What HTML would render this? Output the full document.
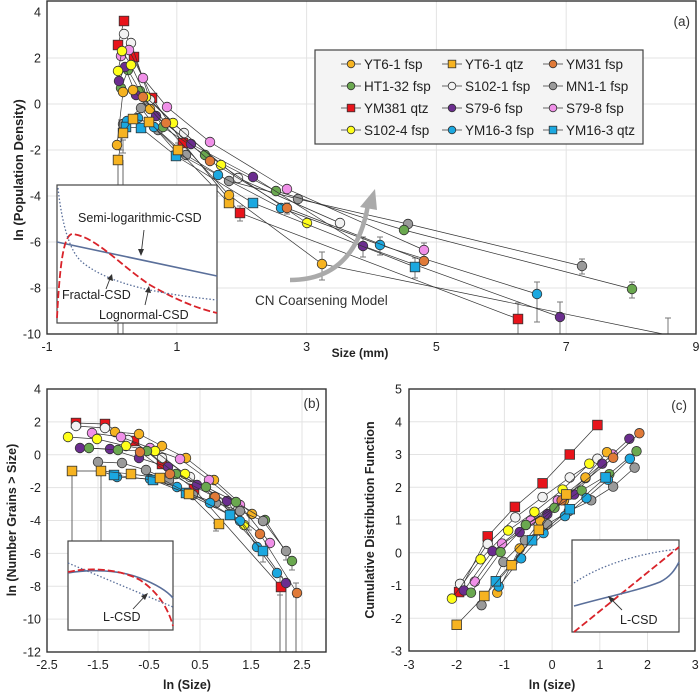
<!DOCTYPE html>
<html><head><meta charset="utf-8"><style>
body{margin:0;background:#fff;}
svg{display:block;font-family:"Liberation Sans",Arial,sans-serif;}
</style></head><body>
<svg id="s" width="700" height="695" viewBox="0 0 700 695" xmlns="http://www.w3.org/2000/svg"></svg>
<script>
const S=document.getElementById('s');let H='';
const C={yf:'#f6b321',yq:'#f6b321',ym31:'#e07a38',ht:'#6aa84f',s1:'#f2f2f2',mn:'#9a9a9a',r:'#e8141b',p79:'#6b2d8f',pk:'#f090e8',s4:'#ffff1a',bf:'#1ba8e0',bq:'#1ba8e0'};
const SQ={yq:1,r:1,bq:1};
function mk(k,x,y,r){r=r||4.8;if(SQ[k])return `<rect x="${x-r}" y="${y-r}" width="${2*r}" height="${2*r}" fill="${C[k]}" stroke="#333" stroke-width="0.8"/>`;return `<circle cx="${x}" cy="${y}" r="${r}" fill="${C[k]}" stroke="#333" stroke-width="0.8"/>`;}
function series(k,pts){let d=pts.map((p,i)=>(i?'L':'M')+p[0].toFixed(1)+','+p[1].toFixed(1)).join('');H+=`<path d="${d}" fill="none" stroke="#333" stroke-width="0.7"/>`;pts.forEach(p=>H+=mk(k,p[0],p[1]));}
function err(x,y1,y2){H+=`<path d="M${x},${y1}V${y2}M${x-3},${y1}h6M${x-3},${y2}h6" stroke="#777" stroke-width="1" fill="none"/>`;}
function txt(x,y,t,o){o=o||{};H+=`<text x="${x}" y="${y}" font-size="${o.fs||12.5}" ${o.a?'text-anchor="'+o.a+'"':''} ${o.b?'font-weight="bold"':''} ${o.rot?'transform="rotate(-90 '+x+' '+y+')"':''} fill="${o.c||'#222'}">${t}</text>`;}
const ax=x=>47+(x+1)*64.9, ay=y=>12+(4-y)*23;
for(let x=1;x<=7;x+=2)H+=`<line x1="${ax(x)}" y1="1" x2="${ax(x)}" y2="334" stroke="#e3e3e3"/>`;
for(let y=-8;y<=2;y+=2)H+=`<line x1="47" y1="${ay(y)}" x2="696" y2="${ay(y)}" stroke="#e3e3e3"/>`;
for(let x=-1;x<=9;x+=2)txt(ax(x),351,x,{a:'middle'});
for(let y=-10;y<=4;y+=2)txt(41,ay(y)+4.5,y,{a:'end'});
txt(23,170,'ln (Population Density)',{b:1,rot:1,a:'middle',fs:13});
txt(360,357,'Size (mm)',{b:1,a:'middle',fs:12});
H+=`<path d="M118,165V334M123,160V334" stroke="#666" stroke-width="1"/>`;
err(322,252,280);err(668,318,334);err(518,303,334);err(537,282,322);err(560,302,334);err(582,259,274);err(632,282,298);err(424,243,258);err(415,258,278);err(380,237,255);err(363,237,257);err(287,203,214);err(240,206,221);err(178,143,159);err(123,140,153);err(121,120,150);
const A={
r:[[124,21],[118,45],[134,57],[152,98],[183,143],[240,213],[518,319]],
s1:[[124,34],[131,43],[150,100],[184,133],[238,178],[340,223]],
mn:[[123,124],[141,108],[158,130],[186,155],[229,181],[298,199],[408,224],[582,266]],
ht:[[121,88],[128,70],[140,91],[163,127],[205,155],[276,191],[404,230],[632,289]],
pk:[[121,56],[129,50],[143,78],[167,107],[210,142],[287,189],[424,250]],
p79:[[119,81],[125,67],[136,95],[156,116],[191,144],[253,177],[363,246],[560,317]],
s4:[[118,71],[122,51],[131,65],[146,97],[173,123],[221,165],[307,223]],
bf:[[127,121],[138,118],[154,127],[177,153],[218,175],[281,208],[380,245],[537,294]],
bq:[[126,127],[141,128],[176,156],[253,203],[415,267]],
yq:[[118,160],[123,133],[133,119],[149,122],[178,150],[229,203]],
yf:[[117,145],[123,92],[133,90],[150,109],[229,195],[322,264],[663,334]],
ym31:[[143,97],[166,123],[210,161],[287,208],[424,261]]};
for(const k in A){let p=A[k];if(k==='yf'){H+=`<path d="${p.map((q,i)=>(i?'L':'M')+q).join('')}" fill="none" stroke="#333" stroke-width="0.7"/>`;p.slice(0,6).forEach(q=>H+=mk(k,q[0],q[1]));}else series(k,p);}
H+=`<path d="M290,280 Q355,280 368,205" fill="none" stroke="#aaa" stroke-width="4.5"/><path d="M375,189 L360,207 L377,210 Z" fill="#aaa"/>`;
txt(255,305,'CN Coarsening Model',{fs:13.5,c:'#333'});
txt(690,26,'(a)',{a:'end',fs:13.5,c:'#333'});
H+=`<rect x="57" y="185" width="160" height="138" fill="#fff" stroke="#444" stroke-width="1.2"/>`;
H+=`<path d="M57,242 L217,276" stroke="#5a6f9a" stroke-width="1.6" fill="none"/>`;
H+=`<path d="M57,318 C60,260 64,236 72,234 C95,236 120,265 150,285 C180,302 200,309 217,313" stroke="#d9232a" stroke-width="1.8" stroke-dasharray="7,3" fill="none"/>`;
H+=`<path d="M58,188 C62,225 70,252 82,262 C110,285 160,294 217,300" stroke="#5a6f9a" stroke-width="1.3" stroke-dasharray="1.5,2" fill="none"/>`;
txt(78,222,'Semi-logarithmic-CSD',{fs:12.5,c:'#222'});txt(62,299,'Fractal-CSD',{fs:12.5});txt(99,319,'Lognormal-CSD',{fs:12.5});
H+=`<path d="M144,230 L141,255M106,289 L111,276M145,305 L149,288" stroke="#333" stroke-width="0.9"/><path d="M141,256 l-3,-7 l6,0z M112,274 l-5,5 l6,2z M149,286 l-4,6 l6,1z" fill="#333"/>`;
H+=`<rect x="315" y="50" width="328" height="94" fill="#f4f4f4" stroke="#444" stroke-width="1.2"/>`;
const L=[['yf','YT6-1 fsp'],['yq','YT6-1 qtz'],['ym31','YM31 fsp'],['ht','HT1-32 fsp'],['s1','S102-1 fsp'],['mn','MN1-1 fsp'],['r','YM381 qtz'],['p79','S79-6 fsp'],['pk','S79-8 fsp'],['s4','S102-4 fsp'],['bf','YM16-3 fsp'],['bq','YM16-3 qtz']];
L.forEach((e,i)=>{let cx=[351,452,553][i%3],cy=64+Math.floor(i/3)*22;H+=`<line x1="${cx-10}" y1="${cy}" x2="${cx+10}" y2="${cy}" stroke="#333" stroke-width="0.8"/>`+mk(e[0],cx,cy,3.8);txt(cx+13,cy+5,e[1],{fs:13.5,c:'#222'});});
H+=`<rect x="47" y="1" width="649" height="333" fill="none" stroke="#333" stroke-width="1.4"/>`;
const bx=x=>47+(x+2.5)*51, by=y=>389+(4-y)*16.44;
for(let x=-1.5;x<=2.5;x+=1)H+=`<line x1="${bx(x)}" y1="389" x2="${bx(x)}" y2="652" stroke="#e3e3e3"/>`;
for(let y=-10;y<=2;y+=2)H+=`<line x1="47" y1="${by(y)}" x2="326" y2="${by(y)}" stroke="#e3e3e3"/>`;
for(let x=-2.5;x<=2.6;x+=1)txt(bx(x),669,x.toFixed(1).replace('.0',''),{a:'middle'});
for(let y=-12;y<=4;y+=2)txt(41,by(y)+4.5,y,{a:'end'});
txt(16,520,'ln (Number Grains &gt; Size)',{b:1,rot:1,a:'middle',fs:12.5});
txt(187,689,'ln (Size)',{b:1,a:'middle',fs:12.5});
H+=`<path d="M72,471V541M101,471V541M280,590V652M286,583V652M296,595V652" stroke="#666" stroke-width="1"/>`;
err(249,515,530);err(263,548,562);err(286,548,560);err(292,558,570);err(280,577,595);err(216,523,531);err(296,583,597);
const B={
r:[[76,423],[105,424],[134,441],[162,464],[194,489],[281,587]],
s1:[[76,426],[105,428],[128,440],[162,458],[190,477],[230,505]],
yf:[[115,432],[139,434],[162,446],[186,458],[214,480],[252,514]],
pk:[[92,433],[121,437],[150,448],[180,459],[209,480],[240,505],[270,543]],
s4:[[68,437],[97,439],[126,446],[155,451],[185,474],[214,497],[244,525]],
p79:[[80,448],[110,449],[139,458],[168,467],[197,485],[227,501],[286,583]],
ht:[[89,448],[118,450],[147,451],[176,474],[206,487],[236,502],[265,520],[292,561]],
mn:[[98,462],[122,463],[146,470],[169,480],[193,495],[216,503],[240,511],[263,521],[286,551]],
ym31:[[140,452],[170,474],[215,497],[260,534],[297,593]],
bf:[[101,471],[117,477],[150,479],[177,487],[210,503],[240,521],[257,547],[277,573]],
bq:[[114,475],[153,480],[186,493],[230,515],[263,551]],
yq:[[72,471],[101,471],[131,474],[160,478],[189,494],[219,524]]};
for(const k in B)series(k,B[k]);
txt(320,408,'(b)',{a:'end',fs:13.5,c:'#333'});
H+=`<rect x="68" y="541" width="105" height="89" fill="#fff" stroke="#444" stroke-width="1.2"/>`;
H+=`<path d="M68,573 C90,569 120,570 140,578 C158,585 168,592 173,598" stroke="#5a6f9a" stroke-width="1.6" fill="none"/>`;
H+=`<path d="M68,572 C90,567 120,569 140,580 C158,592 168,608 173,626" stroke="#d9232a" stroke-width="1.8" stroke-dasharray="7,3" fill="none"/>`;
H+=`<path d="M68,563 L173,607" stroke="#5a6f9a" stroke-width="1.3" stroke-dasharray="1.5,2" fill="none"/>`;
txt(103,621,'L-CSD',{fs:12.5});
H+=`<path d="M133,609 L146,595" stroke="#333" stroke-width="0.9"/><path d="M148,593 l-7,3 l4,4z" fill="#333"/>`;
H+=`<rect x="47" y="389" width="279" height="263" fill="none" stroke="#333" stroke-width="1.4"/>`;
const cx_=x=>409+(x+3)*47.7, cy_=y=>389+(5-y)*32.75;
for(let x=-2;x<=2;x++)H+=`<line x1="${cx_(x)}" y1="389" x2="${cx_(x)}" y2="651" stroke="#e3e3e3"/>`;
for(let y=-2;y<=4;y++)H+=`<line x1="409" y1="${cy_(y)}" x2="695" y2="${cy_(y)}" stroke="#e3e3e3"/>`;
for(let x=-3;x<=3;x++)txt(cx_(x),669,x,{a:'middle'});
for(let y=-3;y<=5;y++)txt(402,cy_(y)+4.5,y,{a:'end'});
txt(374,520,'Cumulative Distribution Function',{b:1,rot:1,a:'middle',fs:12.5});
txt(552,689,'ln (size)',{b:1,a:'middle',fs:12.5});
const Cd={
r:[[-1.95,-1.2],[-1.35,0.5],[-0.78,1.4],[-0.2,2.12],[0.37,3.0],[0.95,3.9]],
s1:[[-1.93,-0.95],[-1.35,0.27],[-0.77,1.08],[-0.2,1.7],[0.37,2.3],[0.95,2.87]],
s4:[[-2.1,-1.4],[-1.5,-0.2],[-0.92,0.68],[-0.37,1.25],[0.22,1.93],[0.78,2.72]],
pk:[[-1.62,-0.88],[-1.05,0.28],[-0.45,0.98],[0.12,1.6],[0.7,2.28],[1.27,3.0]],
p79:[[-1.85,-1.15],[-1.25,0.05],[-0.68,0.63],[-0.1,1.18],[0.46,1.78],[1.05,2.72],[1.62,3.48]],
yf:[[-1.15,-1.22],[-0.68,0.13],[-0.25,0.97],[0.25,1.6],[0.7,2.3],[1.15,3.07]],
ym31:[[-0.55,0.85],[0.2,1.6],[1.28,2.9],[1.83,3.65]],
ht:[[-1.7,-1.22],[-1.08,0.02],[-0.55,0.85],[0.05,1.37],[0.62,1.9],[1.2,2.4],[1.77,3.1]],
mn:[[-1.48,-1.6],[-1.02,-0.28],[-0.57,0.38],[-0.1,0.87],[0.35,1.27],[0.82,1.6],[1.28,2.02],[1.73,2.6]],
bf:[[-1.12,-1.03],[-0.65,-0.17],[-0.18,0.6],[0.27,1.12],[0.72,1.67],[1.17,2.23],[1.63,2.87]],
bq:[[-1.18,-0.87],[-0.42,0.38],[0.37,1.33],[1.12,2.3]],
yq:[[-2.0,-2.2],[-1.42,-1.32],[-0.85,-0.38],[-0.28,0.7],[0.3,1.78]]};
for(const k in Cd)series(k,Cd[k].map(p=>[cx_(p[0]),cy_(p[1])]));
txt(687,410,'(c)',{a:'end',fs:13.5,c:'#333'});
H+=`<rect x="572" y="540" width="107" height="92" fill="#fff" stroke="#444" stroke-width="1.2"/>`;
H+=`<path d="M574,583 C600,565 640,553 679,549" stroke="#5a6f9a" stroke-width="1.3" stroke-dasharray="1.5,2" fill="none"/>`;
H+=`<path d="M574,632 L679,547" stroke="#d9232a" stroke-width="1.8" stroke-dasharray="7,3" fill="none"/>`;
H+=`<path d="M574,606 C610,596 640,590 660,582 C670,577 675,570 679,562" stroke="#5a6f9a" stroke-width="1.6" fill="none"/>`;
txt(620,624,'L-CSD',{fs:12.5});
H+=`<path d="M622,610 L610,598" stroke="#333" stroke-width="0.9"/><path d="M608,596 l3,7 l4,-4z" fill="#333"/>`;
H+=`<rect x="409" y="389" width="286" height="262" fill="none" stroke="#333" stroke-width="1.4"/>`;
S.innerHTML=H;
</script>
</body></html>
